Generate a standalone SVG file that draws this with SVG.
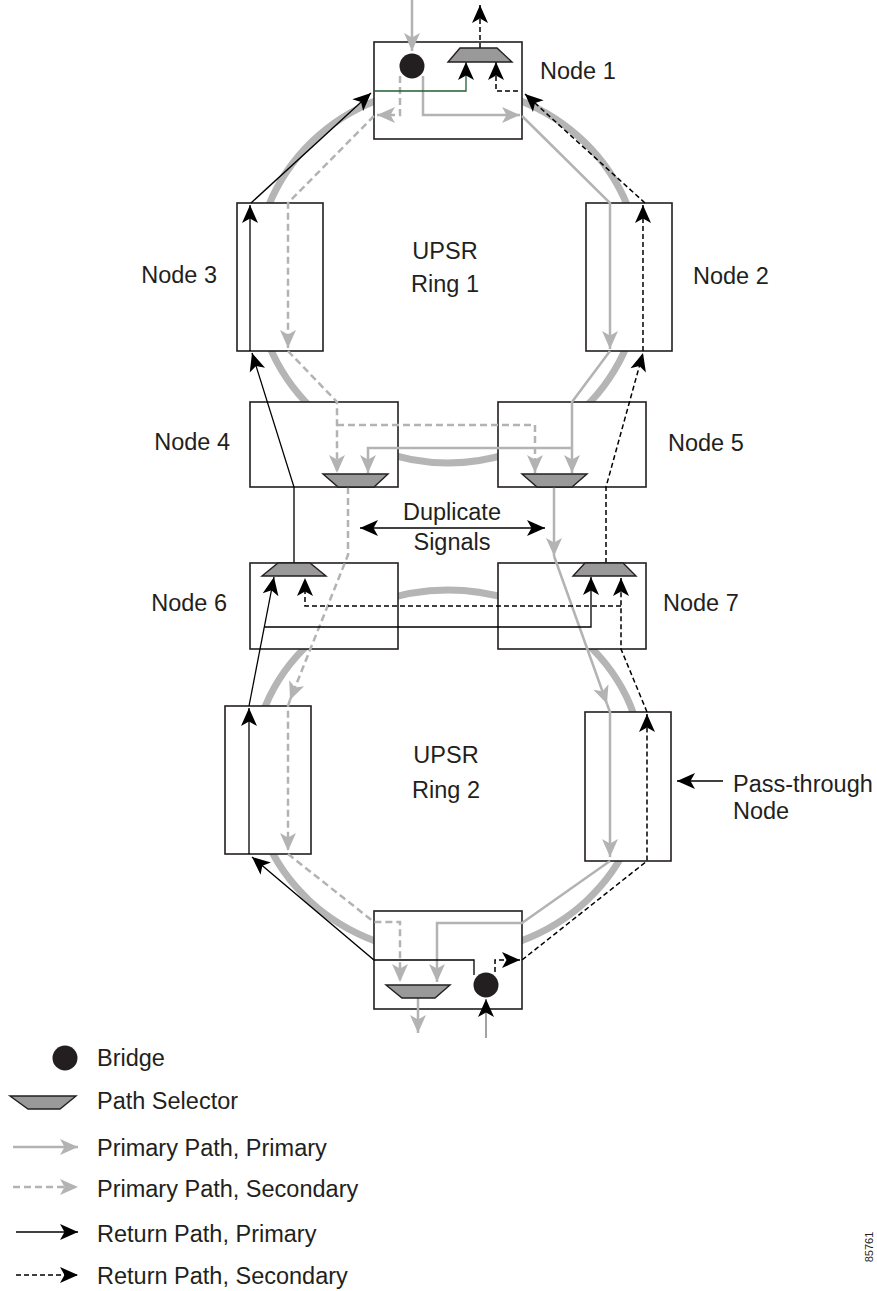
<svg xmlns="http://www.w3.org/2000/svg" width="877" height="1291" viewBox="0 0 877 1291">
<style>
text{font-family:"Liberation Sans",Arial,Helvetica,sans-serif;font-size:23.5px;fill:#231f20}
.ring{fill:none;stroke:#b5b5b5;stroke-width:7}
.box{fill:#fff;stroke:#231f20;stroke-width:1.6}
.sel{fill:#999;stroke:#231f20;stroke-width:1.4}
.bridge{fill:#231f20}
.pp{fill:none;stroke:#b3b3b3;stroke-width:2.5;marker-end:url(#ag)}
.ps{fill:none;stroke:#b3b3b3;stroke-width:2.5;stroke-dasharray:7 4;marker-end:url(#ag)}
.rp{fill:none;stroke:#000;stroke-width:1.3;marker-end:url(#ab)}
.rs{fill:none;stroke:#000;stroke-width:1.5;stroke-dasharray:5 3;marker-end:url(#ab)}
</style>
<defs>
<marker id="ag" viewBox="-20 -10 21 20" markerWidth="21" markerHeight="20" refX="0" refY="0" orient="auto" markerUnits="userSpaceOnUse" overflow="visible"><path d="M0,0 L-18,-8 L-13.5,0 L-18,8 Z" fill="#b3b3b3" stroke="none"/></marker>
<marker id="ab" viewBox="-20 -10 21 20" markerWidth="21" markerHeight="20" refX="0" refY="0" orient="auto" markerUnits="userSpaceOnUse" overflow="visible"><path d="M0,0 L-18,-8 L-13.5,0 L-18,8 Z" fill="#000" stroke="none"/></marker>
<marker id="abs" viewBox="-20 -10 21 20" markerWidth="21" markerHeight="20" refX="0" refY="0" orient="auto-start-reverse" markerUnits="userSpaceOnUse" overflow="visible"><path d="M0,0 L-18,-8 L-13.5,0 L-18,8 Z" fill="#000" stroke="none"/></marker>
</defs>
<g id="rings">
<ellipse class="ring" cx="448" cy="275" rx="193" ry="188"/>
<ellipse class="ring" cx="448" cy="772" rx="196" ry="182"/>
</g>
<g id="node1"><rect class="box" x="374" y="42" width="148" height="97"/><text x="540" y="79">Node 1</text></g>
<g id="node2"><rect class="box" x="586" y="203" width="86" height="148"/><text x="693" y="284">Node 2</text></g>
<g id="node3"><rect class="box" x="237" y="203" width="86" height="148"/><text x="217" y="283" text-anchor="end">Node 3</text></g>
<g id="node4"><rect class="box" x="250" y="402" width="148" height="85"/><text x="230" y="450" text-anchor="end">Node 4</text></g>
<g id="node5"><rect class="box" x="498" y="402" width="148" height="85"/><text x="668" y="451">Node 5</text></g>
<g id="node6"><rect class="box" x="250" y="563" width="148" height="86"/><text x="227" y="611" text-anchor="end">Node 6</text></g>
<g id="node7"><rect class="box" x="498" y="563" width="148" height="86"/><text x="663" y="611">Node 7</text></g>
<g id="node8"><rect class="box" x="225" y="706" width="86" height="148"/></g>
<g id="node9"><rect class="box" x="585" y="712" width="86" height="149"/><text x="733" y="792">Pass-through</text><text x="733" y="819">Node</text></g>
<g id="node10"><rect class="box" x="374" y="911" width="148" height="98"/></g>
<g id="ringlabels">
<text x="445" y="259" text-anchor="middle">UPSR</text><text x="445" y="292" text-anchor="middle">Ring 1</text>
<text x="446" y="763" text-anchor="middle">UPSR</text><text x="446" y="798" text-anchor="middle">Ring 2</text>
<text x="452" y="520" text-anchor="middle">Duplicate</text><text x="452" y="550" text-anchor="middle">Signals</text>
</g>
<g id="connectors">
<path class="pp" d="M412,0 L412,51"/>
<path class="pp" d="M423,76 L423,115 L520,115"/>
<path class="pp" d="M522,116 L610,203 L610,349"/>
<path class="pp" d="M610,351 L572,402 L572,473"/>
<path class="pp" d="M572,448 L368,448 L368,473"/>
<path class="pp" d="M554,487 L554,556"/>
<path class="pp" d="M554,556 L607,704"/>
<path class="pp" d="M607,704 L610,712 L610,857"/>
<path class="pp" d="M610,861 L522,923 L437,923 L437,982"/>
<path class="pp" d="M418,998 L418,1033"/>
<path class="ps" d="M400,76 L400,115 L377,115"/>
<path class="ps" d="M374,116 L288,203 L288,348"/>
<path class="ps" d="M288,351 L337,402 L337,473"/>
<path class="ps" d="M337,425 L535,425 L535,473"/>
<path class="ps" d="M348,487 L348,555 L290,700"/>
<path class="ps" d="M290,700 L288,706 L288,851"/>
<path class="ps" d="M288,854 L374,922 L400,922 L400,982"/>
<path class="rp" d="M486,1038 L486,999" style="stroke:#707070"/>
<path class="rp" d="M474,975 L474,960 L374,960 L252,857"/>
<path class="rp" d="M249,854 L249,708"/>
<path class="rp" d="M249,706 L274,577"/>
<path class="rp" d="M264.5,627 L591,627 L591,577"/>
<path class="rp" d="M294,563 L294,487 L252,353"/>
<path class="rp" d="M250,351 L250,205"/>
<path class="rp" d="M251,203 L371,93"/>
<path class="rp" d="M374,91 L466,91 L466,62" style="stroke:#1f5f33"/>
<path class="rp" d="M723,781 L677,781"/>
<path class="rp" d="M360,528 L545,528" style="marker-start:url(#abs);marker-end:url(#abs)"/>
<path class="rs" d="M495,972 L495,960 L520,960"/>
<path class="rs" d="M522,960 L647,861 L647,714"/>
<path class="rs" d="M647,712 L621,649 L621,578"/>
<path class="rs" d="M621,606 L305,606 L305,578"/>
<path class="rs" d="M606,563 L606,487 L643,353"/>
<path class="rs" d="M643,351 L643,205"/>
<path class="rs" d="M645,203 L525,94"/>
<path class="rs" d="M518,91 L496,91 L496,62"/>
<path class="rs" d="M480,48 L480,5"/>
</g>
<g id="selectors">
<polygon class="sel" points="460,48 497,48 512,62 448,62"/>
<polygon class="sel" points="323,474 388,474 374,487 338,487"/>
<polygon class="sel" points="522,474 587,474 572,487 537,487"/>
<polygon class="sel" points="278,563 310,563 326,576 262,576"/>
<polygon class="sel" points="585,563 623,563 636,576 573,576"/>
<polygon class="sel" points="386,985 450,985 435,998 402,998"/>
</g>
<g id="bridges">
<circle class="bridge" cx="412" cy="66" r="12.5"/>
<circle class="bridge" cx="486" cy="985" r="12.5"/>
</g>
<g id="legend">
<circle class="bridge" cx="65" cy="1058" r="12.5"/>
<polygon class="sel" points="10,1096 76,1096 60,1109 28,1109"/>
<path class="pp" d="M13,1147 L78,1147"/>
<path class="ps" d="M13,1187 L78,1187"/>
<path class="rp" d="M16,1232 L78,1232"/>
<path class="rs" d="M16,1275 L78,1275"/>
<text x="97" y="1066">Bridge</text>
<text x="97" y="1109">Path Selector</text>
<text x="97" y="1156">Primary Path, Primary</text>
<text x="97" y="1197">Primary Path, Secondary</text>
<text x="97" y="1242">Return Path, Primary</text>
<text x="97" y="1284">Return Path, Secondary</text>
</g>
<text x="0" y="0" transform="translate(873,1247) rotate(-90)" text-anchor="middle" style="font-size:11px">85761</text>
</svg>
